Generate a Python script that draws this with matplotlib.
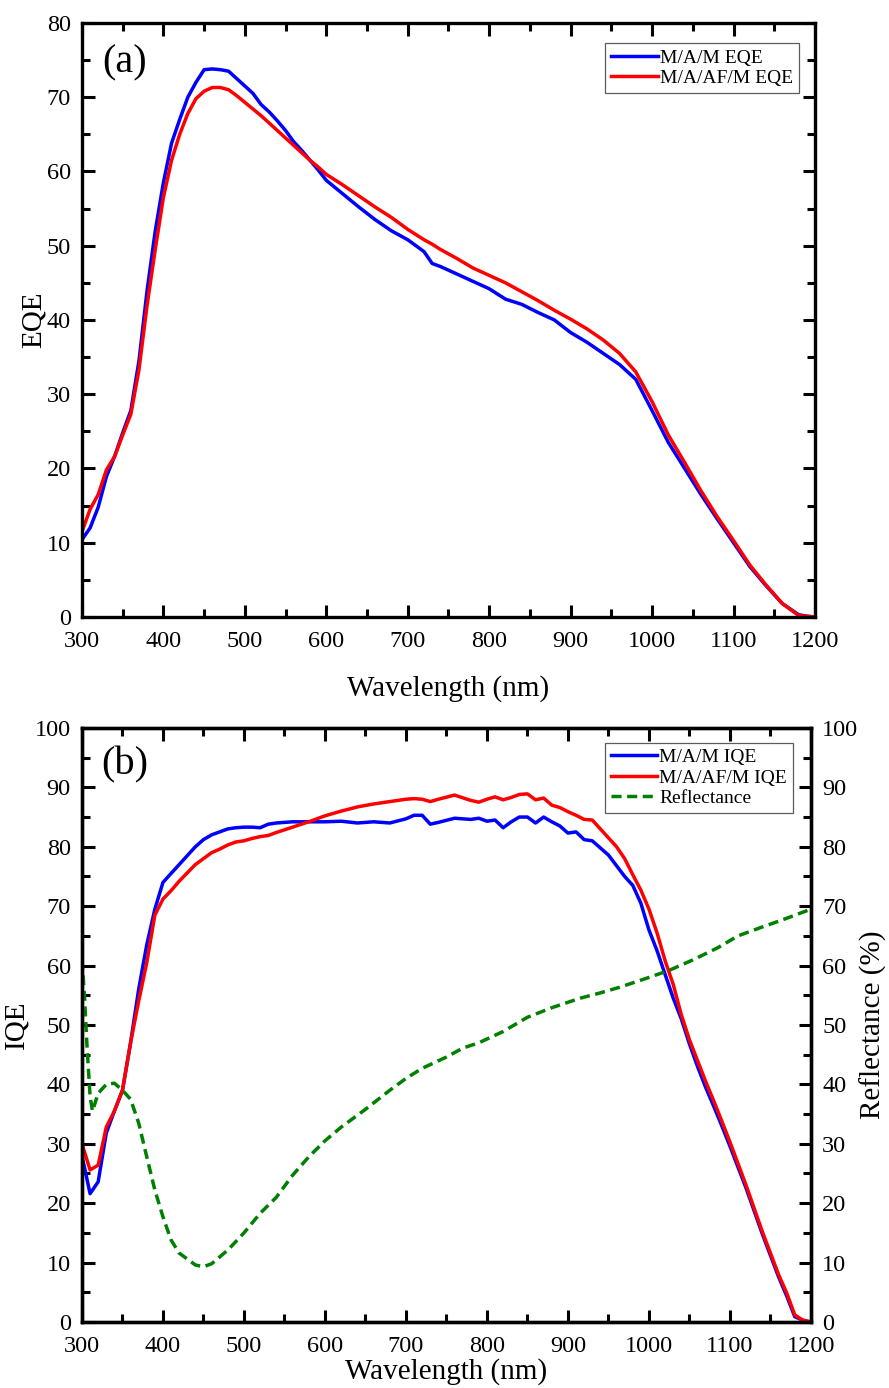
import matplotlib
matplotlib.use("Agg")
import matplotlib.pyplot as plt
from matplotlib.ticker import MultipleLocator

plt.rcParams['font.family'] = ['Liberation Serif', 'DejaVu Serif']

# (a) EQE
wl_eqe = [300, 310, 320, 330, 340, 350, 360, 370, 380, 390, 400, 410, 420, 430, 440,
          450, 460, 470, 480, 490, 500, 510, 520, 530, 540, 550, 560, 570, 580, 590,
          600, 620, 640, 660, 680, 700, 720, 730, 740, 760, 780, 800, 820, 840, 860,
          880, 900, 920, 940, 960, 980, 1000, 1020, 1040, 1060, 1080, 1100, 1120,
          1140, 1160, 1180, 1190, 1200]
eqe_mam = [10.4, 12.0, 14.8, 18.9, 21.6, 24.8, 27.8, 34.5, 44.0, 52.0, 58.5, 63.8, 67.0,
           70.0, 72.0, 73.7, 73.8, 73.7, 73.5, 72.5, 71.5, 70.5, 69.0, 68.0, 66.8, 65.5,
           64.0, 62.8, 61.5, 60.2, 58.8, 57.0, 55.2, 53.5, 52.0, 50.8, 49.2, 47.6, 47.2,
           46.2, 45.2, 44.2, 42.8, 42.1, 41.0, 40.0, 38.3, 37.0, 35.5, 34.0, 32.0, 27.8,
           23.5, 20.0, 16.5, 13.2, 10.0, 6.8, 4.2, 1.8, 0.3, 0.1, 0.0]
eqe_maafm = [11.5, 14.5, 16.5, 19.8, 21.6, 24.5, 27.3, 33.3, 42.0, 49.5, 56.5, 61.5,
             65.0, 67.8, 69.8, 70.8, 71.3, 71.3, 71.0, 70.2, 69.3, 68.4, 67.5, 66.5,
             65.5, 64.5, 63.5, 62.5, 61.5, 60.6, 59.6, 58.2, 56.7, 55.2, 53.8, 52.2,
             50.8, 50.2, 49.5, 48.3, 47.0, 46.0, 45.0, 43.8, 42.6, 41.3, 40.1, 38.8,
             37.3, 35.5, 33.0, 29.0, 24.5, 20.8, 17.0, 13.5, 10.3, 7.0, 4.3, 1.8, 0.2,
             0.1, 0.0]

# (b) IQE and reflectance
wl_iqe = [300, 310, 320, 330, 340, 350, 360, 370, 380, 390, 400, 410, 420, 430, 440,
          450, 460, 470, 480, 490, 500, 510, 520, 530, 540, 560, 580, 600, 620, 640,
          660, 680, 700, 710, 720, 730, 740, 760, 780, 790, 800, 810, 820, 830, 840,
          850, 860, 870, 880, 890, 900, 910, 920, 930, 940, 950, 960, 970, 980, 990,
          1000, 1010, 1020, 1030, 1040, 1050, 1060, 1070, 1080, 1090, 1100, 1120,
          1140, 1160, 1170, 1180, 1190, 1200]
iqe_mam = [28.0, 21.6, 23.6, 31.8, 35.5, 39.0, 47.0, 56.0, 63.5, 69.5, 74.0, 75.5, 77.0,
           78.5, 80.0, 81.2, 82.0, 82.5, 83.0, 83.2, 83.3, 83.3, 83.2, 83.8, 84.0, 84.2,
           84.2, 84.2, 84.3, 84.0, 84.2, 84.0, 84.7, 85.3, 85.3, 83.8, 84.1, 84.8, 84.6,
           84.8, 84.3, 84.5, 83.2, 84.2, 85.0, 85.0, 84.0, 85.0, 84.2, 83.5, 82.3, 82.5,
           81.2, 81.0, 79.8, 78.6, 76.8, 75.0, 73.5, 70.5, 66.0, 62.5, 58.5, 54.5, 51.0,
           46.8, 43.0, 39.5, 36.3, 33.0, 29.6, 22.5, 14.8, 7.6, 4.4, 0.9, 0.3, 0.0]
iqe_maafm = [30.0, 25.6, 26.4, 32.8, 35.5, 39.0, 47.0, 54.0, 60.5, 68.5, 71.2, 72.6,
             74.2, 75.6, 77.0, 78.0, 79.0, 79.6, 80.3, 80.8, 81.0, 81.4, 81.7, 81.9,
             82.4, 83.3, 84.2, 85.2, 86.0, 86.7, 87.2, 87.6, 88.0, 88.1, 88.0, 87.6,
             88.0, 88.7, 87.8, 87.5, 88.0, 88.4, 87.9, 88.3, 88.8, 88.9, 87.9, 88.2,
             87.0, 86.6, 85.9, 85.3, 84.6, 84.5, 83.0, 81.5, 80.0, 78.0, 75.3, 72.7,
             69.5, 65.5, 60.8, 56.8, 51.7, 47.5, 44.0, 40.5, 37.2, 33.8, 30.3, 23.0,
             15.2, 8.0, 4.9, 1.2, 0.3, 0.0]

wl_ref = [300, 303, 306, 310, 313, 320, 330, 340, 350, 360, 370, 380, 390, 400, 410,
          420, 440, 450, 460, 480, 500, 520, 540, 560, 580, 600, 620, 650, 680, 700,
          720, 750, 770, 790, 820, 850, 880, 915, 940, 965, 1000, 1025, 1055, 1085,
          1110, 1140, 1165, 1200]
reflectance = [61.0, 55.0, 47.0, 38.0, 35.5, 38.5, 40.0, 40.2, 39.0, 37.5, 33.5, 27.8,
               22.2, 17.7, 13.8, 11.6, 9.6, 9.3, 9.8, 12.1, 15.0, 18.3, 21.0, 24.7,
               27.8, 30.5, 32.8, 35.8, 39.0, 41.0, 42.7, 44.6, 46.1, 47.0, 48.9, 51.3,
               52.9, 54.5, 55.4, 56.4, 58.0, 59.2, 61.0, 63.0, 65.0, 66.5, 67.7, 69.5]

fs_tick = 17.5
fs_label = 21
fs_leg = 14

fig = plt.figure(figsize=(8.89, 13.88), dpi=100)
ax1 = fig.add_axes([0.0922, 0.5555, 0.8245, 0.4280])
ax2 = fig.add_axes([0.0922, 0.04755, 0.8200, 0.4280])


def style(ax, right=True):
    for s in ax.spines.values():
        s.set_linewidth(2.4)
    ax.set_xlim(300, 1200)
    ax.xaxis.set_major_locator(MultipleLocator(100))
    ax.xaxis.set_minor_locator(MultipleLocator(50))
    ax.yaxis.set_minor_locator(MultipleLocator(5))
    ax.tick_params(which='both', direction='in', top=True, right=right,
                   labelsize=fs_tick, width=2.2)
    ax.tick_params(axis='x', pad=10)
    ax.tick_params(axis='y', pad=8)
    ax.tick_params(which='major', length=9)
    ax.tick_params(which='minor', length=5.5)


# panel (a)
ax1.plot(wl_eqe, eqe_mam, color='#0000ff', lw=2.5, label='M/A/M EQE')
ax1.plot(wl_eqe, eqe_maafm, color='#ff0000', lw=2.5, label='M/A/AF/M EQE')
style(ax1)
ax1.set_ylim(0, 80)
ax1.yaxis.set_major_locator(MultipleLocator(10))
ax1.set_xlabel('Wavelength (nm)', fontsize=fs_label, labelpad=17)
ax1.set_ylabel('EQE', fontsize=fs_label, labelpad=0)
ax1.text(0.027, 0.933, '(a)', transform=ax1.transAxes, fontsize=29, va='center')
leg = ax1.legend(loc='upper right', bbox_to_anchor=(0.978, 0.966), borderaxespad=0,
                 fontsize=fs_leg, fancybox=False, edgecolor='#333333',
                 handlelength=2.4, handletextpad=0.1, labelspacing=0.15, borderpad=0.3)
leg.get_frame().set_linewidth(0.9)

# panel (b)
ax2.plot(wl_iqe, iqe_mam, color='#0000ff', lw=2.5, label='M/A/M IQE')
ax2.plot(wl_iqe, iqe_maafm, color='#ff0000', lw=2.5, label='M/A/AF/M IQE')
style(ax2, right=False)
ax2.set_ylim(0, 100)
ax2.yaxis.set_major_locator(MultipleLocator(10))
ax2.set_xlabel('Wavelength (nm)', fontsize=fs_label, labelpad=1)
ax2.set_ylabel('IQE', fontsize=fs_label, labelpad=4)
ax2.text(0.027, 0.938, '(b)', transform=ax2.transAxes, fontsize=29, va='center')

ax3 = ax2.twinx()
ax3.plot(wl_ref, reflectance, color='#008000', lw=2.5, ls=(0, (2.9, 1.6)),
         label='Reflectance')
ax3.set_ylim(0, 100)
ax3.yaxis.set_major_locator(MultipleLocator(10))
ax3.yaxis.set_minor_locator(MultipleLocator(5))
for s in ax3.spines.values():
    s.set_linewidth(2.4)
ax3.tick_params(which='both', direction='in', labelsize=fs_tick, width=2.2, pad=8)
ax3.tick_params(which='major', length=9)
ax3.tick_params(which='minor', length=5.5)
ax3.set_ylabel('Reflectance (%)', fontsize=fs_label, labelpad=1)

h1, l1 = ax2.get_legend_handles_labels()
h2, l2 = ax3.get_legend_handles_labels()
leg2 = ax3.legend(h1 + h2, l1 + l2, loc='upper right', bbox_to_anchor=(0.975, 0.975),
                  borderaxespad=0, fontsize=fs_leg, fancybox=False, edgecolor='#333333',
                  handlelength=2.4, handletextpad=0.1, labelspacing=0.15, borderpad=0.3)
leg2.get_frame().set_linewidth(0.9)

fig.savefig('out.png', dpi=100)
